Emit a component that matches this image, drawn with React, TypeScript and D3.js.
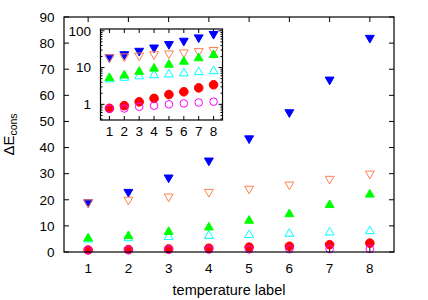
import React from "react";
import * as d3 from "d3";

const labels = [1, 2, 3, 4, 5, 6, 7, 8];
const blueVals = [19, 23, 28.5, 35, 43.5, 53.5, 66, 82];
const orangeVals = [19, 20, 21.2, 23, 24.2, 25.8, 28, 30];
const cyanVals = [4.8, 5.3, 5.8, 6.2, 6.5, 7, 7.5, 8];
const greenVals = [5.2, 6.1, 7.7, 9.4, 12, 14.5, 18, 22];
const redVals = [0.78, 0.92, 1.17, 1.45, 1.85, 2.2, 2.8, 3.4];
const magentaVals = [0.76, 0.77, 0.86, 0.92, 1.0, 1.06, 1.12, 1.18];
const yTicks = [0, 10, 20, 30, 40, 50, 60, 70, 80, 90];
const insetTicks = [1, 10, 100];

type Series = { vals: number[]; color: string; shape: string; filled: boolean };
const series: Series[] = [
  { vals: blueVals, color: "#0000ff", shape: "down", filled: true },
  { vals: orangeVals, color: "#ff7f50", shape: "down", filled: false },
  { vals: cyanVals, color: "#00ffff", shape: "up", filled: false },
  { vals: greenVals, color: "#00ff00", shape: "up", filled: true },
  { vals: redVals, color: "#ff0000", shape: "circle", filled: true },
  { vals: magentaVals, color: "#ff00ff", shape: "circle", filled: false },
];

const font = "'Liberation Sans', Arial, sans-serif";
const tickFont = 13.5;
const tri = d3.symbol().type(d3.symbolTriangle).size(34)();

function Marker({ x, y, s }: { x: number; y: number; s: Series }) {
  const fill = s.filled ? s.color : "none";
  if (s.shape === "circle") {
    return <circle cx={x} cy={y} r={s.filled ? 4.3 : 3.8} fill={fill} stroke={s.color} strokeWidth={1} />;
  }
  const rot = s.shape === "down" ? 180 : 0;
  return (
    <path
      d={tri || ""}
      transform={`translate(${x},${y}) rotate(${rot})`}
      fill={fill}
      stroke={s.color}
      strokeWidth={1}
    />
  );
}

export default function App() {
  const W = 428, H = 300;
  const L = 64, R = 394, T = 17, B = 252;
  const x = d3.scaleLinear().domain([0.4, 8.6]).range([L, R]);
  const y = d3.scaleLinear().domain([0, 90]).range([B, T]);

  // inset (log scale)
  const iL = 100.5, iR = 222.5, iT = 29, iB = 120;
  const ix = d3.scaleLinear().domain([0.4, 8.6]).range([iL, iR]);
  const iy = d3.scaleLog().domain([0.375, 112]).range([iB, iT]);
  const minor: number[] = [];
  [0.1, 1, 10, 100].forEach((d) => {
    for (let k = 2; k <= 9; k++) {
      const v = d * k;
      if (v > 0.375 && v < 112) minor.push(v);
    }
  });

  return (
    <svg width={W} height={H} style={{ position: "absolute", left: 0, top: 0 }} fontFamily={font}>
      <rect width={W} height={H} fill="white" />
      {yTicks.map((t) => (
        <g key={`y${t}`}>
          <line x1={L} x2={L + 5} y1={y(t)} y2={y(t)} stroke="black" />
          <line x1={R} x2={R - 5} y1={y(t)} y2={y(t)} stroke="black" />
          <text x={L - 9.5} y={y(t)} dy="0.35em" textAnchor="end" fontSize={tickFont}>
            {t}
          </text>
        </g>
      ))}
      {labels.map((t) => (
        <g key={`x${t}`}>
          <line x1={x(t)} x2={x(t)} y1={B} y2={B - 5} stroke="black" />
          <line x1={x(t)} x2={x(t)} y1={T} y2={T + 5} stroke="black" />
          <text x={x(t)} y={B + 21} textAnchor="middle" fontSize={tickFont}>
            {t}
          </text>
        </g>
      ))}
      {series.map((s, si) =>
        s.vals.map((v, i) => <Marker key={`m${si}-${i}`} x={x(labels[i])} y={y(v)} s={s} />)
      )}
      <rect x={L} y={T} width={R - L} height={B - T} fill="none" stroke="black" strokeWidth={1.2} />
      <text x={(L + R) / 2} y={295} textAnchor="middle" fontSize={14.5}>
        temperature label
      </text>
      <text transform={`translate(13.5,${(T + B) / 2}) rotate(-90)`} textAnchor="middle" fontSize={15}>
        ΔE
        <tspan fontSize={10.5} dy={3}>cons</tspan>
      </text>

      <rect x={iL} y={iT} width={iR - iL} height={iB - iT} fill="white" />
      {insetTicks.map((t) => (
        <g key={`iy${t}`}>
          <line x1={iL} x2={iL + 4} y1={iy(t)} y2={iy(t)} stroke="black" />
          <line x1={iR} x2={iR - 4} y1={iy(t)} y2={iy(t)} stroke="black" />
          <text x={iL - 9.5} y={iy(t)} dy="0.35em" textAnchor="end" fontSize={tickFont}>
            {t}
          </text>
        </g>
      ))}
      {minor.map((t) => (
        <g key={`im${t}`}>
          <line x1={iL} x2={iL + 2} y1={iy(t)} y2={iy(t)} stroke="black" />
          <line x1={iR} x2={iR - 2} y1={iy(t)} y2={iy(t)} stroke="black" />
        </g>
      ))}
      {labels.map((t) => (
        <g key={`ix${t}`}>
          <line x1={ix(t)} x2={ix(t)} y1={iB} y2={iB - 4} stroke="black" />
          <line x1={ix(t)} x2={ix(t)} y1={iT} y2={iT + 4} stroke="black" />
          <text x={ix(t)} y={iB + 16} textAnchor="middle" fontSize={tickFont}>
            {t}
          </text>
        </g>
      ))}
      {series.map((s, si) =>
        s.vals.map((v, i) => <Marker key={`i${si}-${i}`} x={ix(labels[i])} y={iy(v)} s={s} />)
      )}
      <rect x={iL} y={iT} width={iR - iL} height={iB - iT} fill="none" stroke="black" strokeWidth={1.2} />
    </svg>
  );
}
